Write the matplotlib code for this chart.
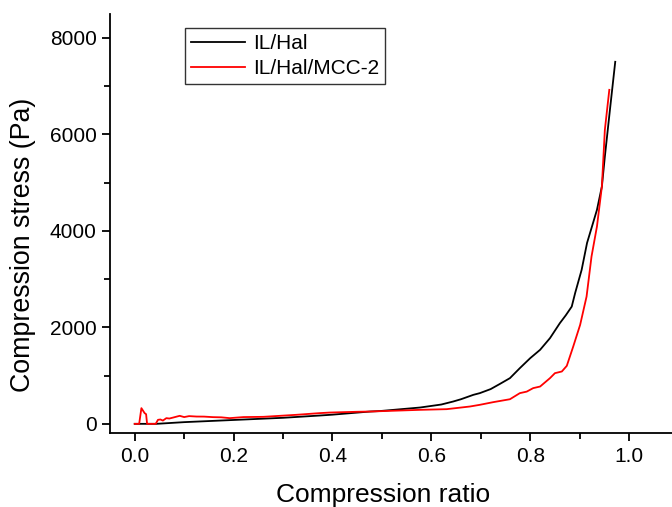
import matplotlib.pyplot as plt
from matplotlib.ticker import MultipleLocator

plt.rcParams['font.family'] = ['Liberation Sans', 'DejaVu Sans']

# IL/Hal
hal_x = [0, 0.044, 0.1, 0.2, 0.3, 0.374, 0.4, 0.476, 0.496, 0.577, 0.62, 0.644, 0.66,
         0.685, 0.698, 0.72, 0.739, 0.759, 0.779, 0.8, 0.82, 0.84, 0.86, 0.872, 0.884,
         0.891, 0.904, 0.915, 0.927, 0.935, 0.945, 0.951, 0.962, 0.972]
hal_y = [0, 0, 35, 80, 125, 172, 190, 255, 265, 338, 400, 462, 510,
         601, 636, 720, 829, 947, 1154, 1361, 1534, 1776, 2087, 2250, 2430,
         2715, 3190, 3750, 4160, 4435, 4920, 5540, 6577, 7503]

# IL/Hal/MCC-2
mcc_x = [0, 0.009, 0.0135, 0.02, 0.023, 0.025, 0.0425, 0.047, 0.052, 0.057, 0.064, 0.07,
         0.078, 0.085, 0.091, 0.1, 0.11, 0.125, 0.14, 0.158, 0.175, 0.192, 0.22, 0.26,
         0.3, 0.327, 0.374, 0.395, 0.45, 0.476, 0.577, 0.631, 0.678, 0.698, 0.725, 0.759,
         0.779, 0.793, 0.806, 0.82, 0.84, 0.85, 0.864, 0.874, 0.887, 0.901, 0.914, 0.924,
         0.935, 0.945, 0.951, 0.96]
mcc_y = [0, 0, 325, 222, 200, 0, 0, 83, 90, 68, 118, 110,
         131, 150, 166, 140, 160, 151, 150, 139, 135, 118, 140, 145,
         170, 187, 222, 234, 250, 255, 290, 304, 359, 394, 449, 510,
         636, 668, 740, 773, 947, 1050, 1085, 1202, 1602, 2052, 2638, 3467,
         4090, 4920, 6093, 6922]

fig = plt.figure(figsize=(6.72, 5.07), dpi=100)
ax = fig.add_axes([0.1637, 0.145, 0.846, 0.828])

ax.plot(hal_x, hal_y, color='black', lw=1.3, label='IL/Hal')
ax.plot(mcc_x, mcc_y, color='red', lw=1.3, label='IL/Hal/MCC-2')

ax.set_xlim(-0.05, 1.1)
ax.set_ylim(-200, 8500)
ax.xaxis.set_minor_locator(MultipleLocator(0.1))
ax.yaxis.set_major_locator(MultipleLocator(2000))
ax.yaxis.set_minor_locator(MultipleLocator(1000))
ax.set_xticks([0, 0.2, 0.4, 0.6, 0.8, 1.0])
ax.set_xticklabels(['0.0', '0.2', '0.4', '0.6', '0.8', '1.0'])

for s in ['top', 'right']:
    ax.spines[s].set_visible(False)
for s in ['left', 'bottom']:
    ax.spines[s].set_linewidth(1.3)
ax.tick_params(which='major', direction='out', length=6, width=1.3, labelsize=15)
ax.tick_params(which='minor', direction='out', length=4, width=1.3)

ax.set_xlabel('Compression ratio', fontsize=19)
ax.set_ylabel('Compression stress (Pa)', fontsize=19.3)
ax.xaxis.set_label_coords(0.481, -0.117)
ax.yaxis.set_label_coords(-0.13, 0.449)

leg = ax.legend(loc='upper left', bbox_to_anchor=(0.132, 0.966), fontsize=15,
                frameon=True, fancybox=False, edgecolor='black', handlelength=2.6,
                handletextpad=0.35, borderpad=0.3, labelspacing=0.28, borderaxespad=0)
leg.get_frame().set_linewidth(1.0)

plt.savefig('out.png', dpi=100)
